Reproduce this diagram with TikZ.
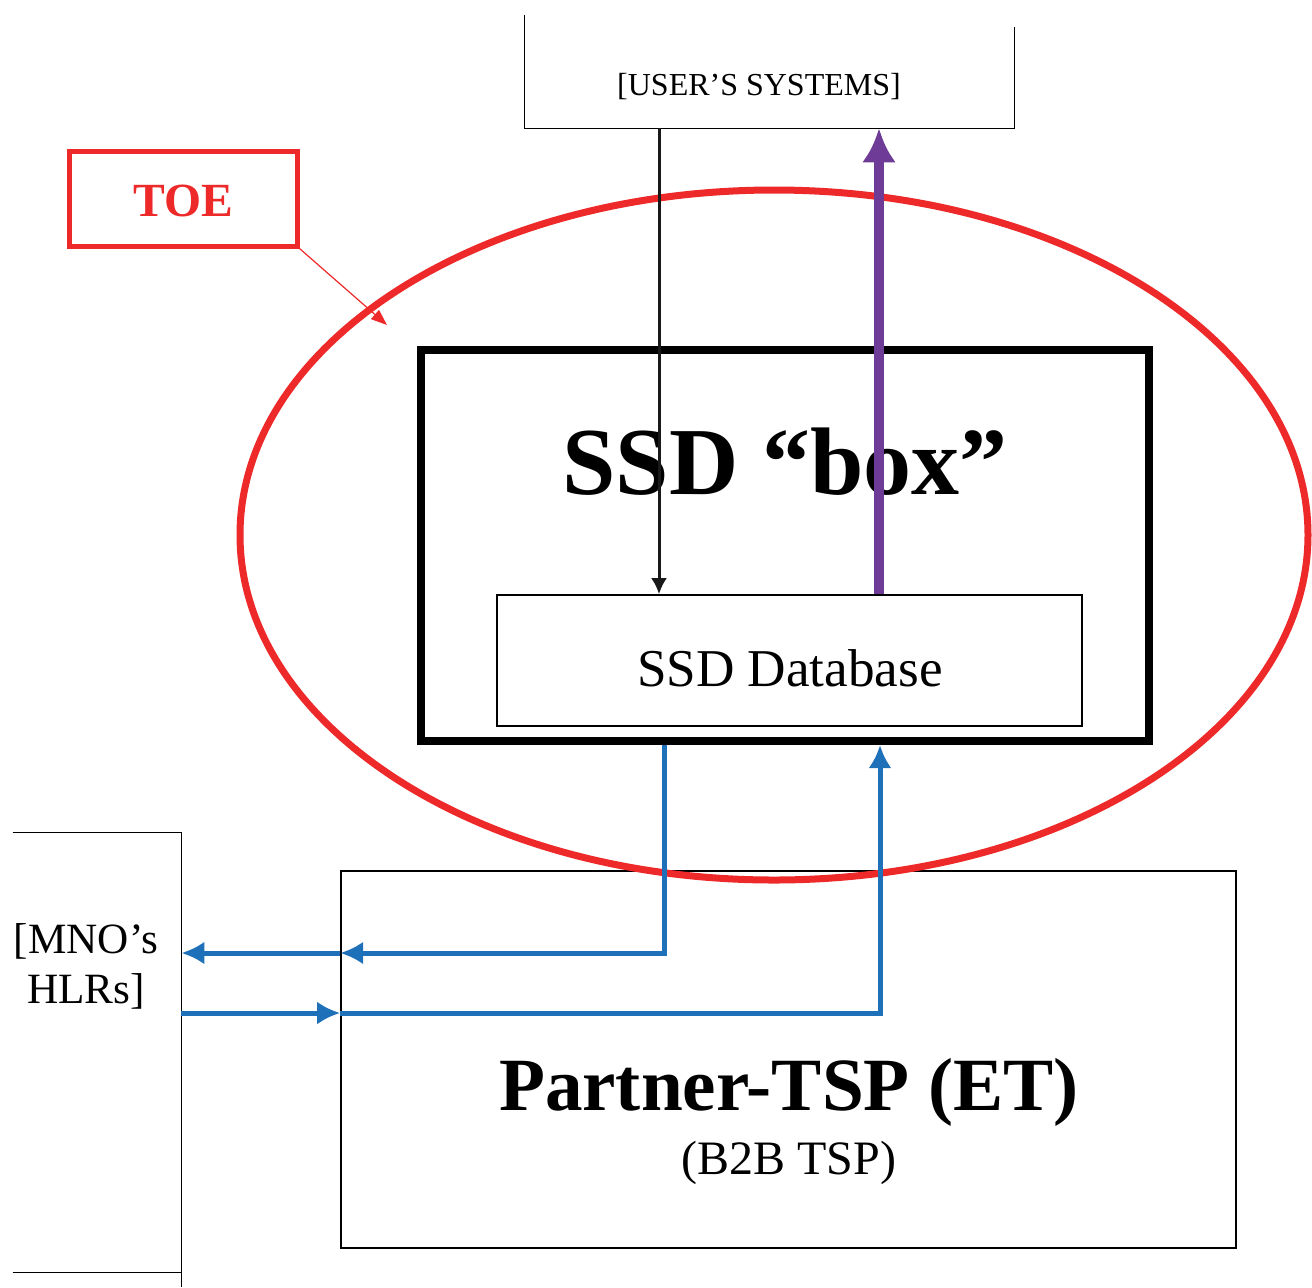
\documentclass[tikz,border=0pt]{standalone}
\usepackage{fontspec}
\setmainfont{Liberation Serif}
\usetikzlibrary{arrows.meta}
\definecolor{toered}{RGB}{237,41,41}
\definecolor{flowblue}{RGB}{30,112,185}
\definecolor{outpurple}{RGB}{110,59,150}

\begin{document}
\begin{tikzpicture}[x=0.5pt,y=-0.5pt,
  thinbox/.style={draw,line width=0.8pt,inner sep=0pt},
  plainbox/.style={inner sep=0pt},
  lbl/.style={inner sep=0pt,align=center},
  flow/.style={flowblue,line width=2.5pt,-{Latex[length=11.5pt,width=11.5pt]}},
  feed/.style={black!90,line width=1.5pt,-{Latex[length=8pt,width=8pt]}},
  outflow/.style={outpurple,line width=5pt,-{Latex[length=17pt,width=17pt]}}]
\useasboundingbox (0,0) rectangle (1312,1287);
% boxes
\node[plainbox,minimum width=244.5pt,minimum height=56.5pt] (users) at (769.5,71.5) {};
\node[lbl,font=\fontsize{16}{18}\selectfont] (usrlbl) at (759,87) {[USER’S SYSTEMS]};
\draw[line width=0.8pt] (users.north west) -- (users.south west) -- (users.south east) -- ++(0,-101);
\node[draw,line width=4pt,minimum width=364pt,minimum height=195.5pt] (ssdbox) at (785,545.5) {};
\node[lbl,font=\fontsize{48}{50}\selectfont\bfseries] (ssdlbl) at (785,462) {SSD “box”};
\node[thinbox,fill=white,minimum width=292.5pt,minimum height=65.5pt] (db) at (789.5,660.5) {};
\node[lbl,font=\fontsize{26.6}{30}\selectfont] (dblbl) at (790,668) {SSD Database};
\node[thinbox,minimum width=447.5pt,minimum height=188.5pt] (partner) at (788.5,1059.5) {};
\node[lbl,font=\fontsize{37.6}{42}\selectfont\bfseries] (ptnlbl) at (789,1092) {Partner-TSP (ET)};
\node[lbl,font=\fontsize{24}{26}\selectfont] (b2b) at (789,1163) {(B2B TSP)};
\node[plainbox,minimum width=84pt,minimum height=219.5pt] (mno) at (97,1052.5) {};
\draw[line width=0.8pt] (mno.north west) -- (mno.north east) -- (mno.south east) -- ++(0,15);
\draw[line width=0.8pt] (mno.south west) -- (mno.south east);
\node[lbl,font=\fontsize{21.6}{25}\selectfont] (mnolbl) at (86,966) {[MNO’s\\HLRs]};
% TOE
\draw[toered,line width=3.5pt] (774,535) ellipse [x radius=267pt,y radius=172.5pt];
\node[draw=toered,line width=2.5pt,minimum width=114pt,minimum height=47.5pt] (toe) at (183,198.5) {};
\node[lbl,text=toered,font=\fontsize{23.8}{26}\selectfont\bfseries] (toelbl) at (183,201) {TOE};
\coordinate (toetip) at (387,325);
\draw[toered,line width=0.6pt,-{Triangle[length=8pt,width=6pt]}] (toe.south east) -- (toetip);
% flows
\coordinate (outbend) at (664,953);
\coordinate (inbend) at (880,1013);
\draw[feed] (users.south -| 659,0) -- (db.north -| 659,0);
\draw[outflow] (db.north -| 879,0) -- (users.south -| 879,0);
\draw[flow] (ssdbox.south -| outbend) |- (partner.west |- outbend);
\draw[flow] (partner.west |- outbend) -- (mno.east |- outbend);
\draw[flow] (mno.east |- inbend) -- (partner.west |- inbend);
\draw[flow] (partner.west |- inbend) -| (ssdbox.south -| inbend);
\end{tikzpicture}
\end{document}
